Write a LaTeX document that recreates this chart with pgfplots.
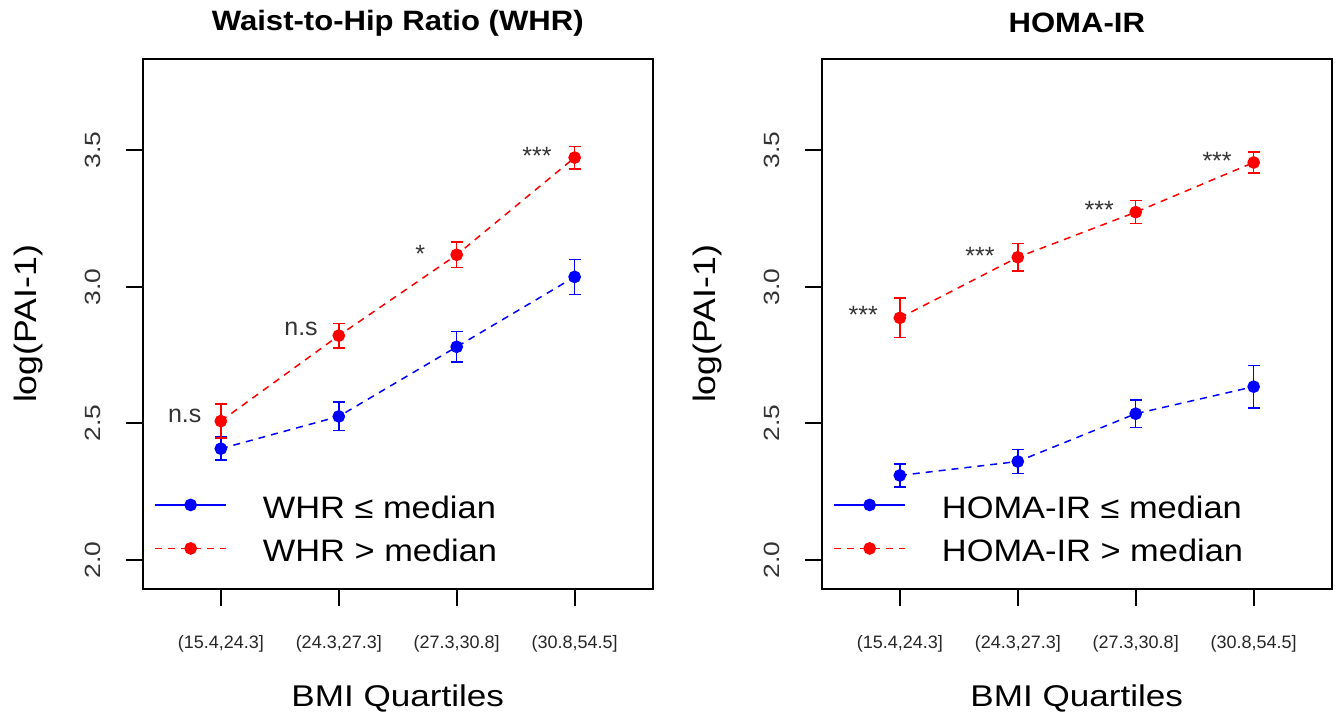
\documentclass[border=0pt]{standalone}
\usepackage{fontspec}
\setmainfont{Liberation Sans}
\newfontfamily\lblfont[FakeStretch=1.17]{Liberation Sans}
\newfontfamily\ylblfont[FakeStretch=1.15]{Liberation Sans}
\newfontfamily\tickfont[FakeStretch=1.2]{Liberation Sans}
\newfontfamily\legfont[FakeStretch=1.11]{Liberation Sans}
\newfontfamily\titlefont[FakeStretch=1.11]{Liberation Sans Bold}
\usepackage{pgfplots}
\usepackage{pgfplotstable}
\pgfplotsset{compat=1.18}

\pgfplotstableread{
x y e
1 2.407 0.042
2 2.525 0.052
3 2.780 0.056
4 3.036 0.064
}\whrlow
\pgfplotstableread{
x y e
1 2.508 0.062
2 2.821 0.045
3 3.117 0.047
4 3.473 0.041
}\whrhigh
\pgfplotstableread{
x y e
1 2.309 0.042
2 2.360 0.044
3 2.535 0.050
4 2.634 0.078
}\homalow
\pgfplotstableread{
x y e
1 2.886 0.072
2 3.108 0.050
3 3.273 0.042
4 3.455 0.039
}\homahigh

\tikzset{ann/.style={font=\fontsize{12.5}{14}\selectfont, anchor=center, color=black!80}}

\pgfplotsset{
  panel/.style={
    scale only axis, width=254.75pt, height=265pt,
    anchor=south west,
    xmin=0.34, xmax=4.66, ymin=1.893, ymax=3.834,
    xtick={1,2,3,4},
    xticklabels={{(15.4,24.3]},{(24.3,27.3]},{(27.3,30.8]},{(30.8,54.5]}},
    ytick={2,2.5,3,3.5},
    yticklabels={2.0,2.5,3.0,3.5},
    xtick pos=bottom, ytick pos=left,
    tick align=outside,
    major tick length=8.5pt,
    tick style={draw=black, line width=1pt},
    axis line style={line width=1pt},
    xticklabel style={font=\fontsize{9}{10}\selectfont, anchor=north, inner sep=0pt, yshift=-14.5pt, color=black!85},
    yticklabel style={xshift=-12.5pt, rotate=90, anchor=south, inner sep=0pt, font=\tickfont\fontsize{11}{12}\selectfont, color=black!80},
    every axis x label/.style={at={(rel axis cs:0.5,-0.207)}, anchor=center, font=\lblfont\fontsize{15}{18}\selectfont},
    every axis y label/.style={at={(rel axis cs:-0.225,0.5)}, rotate=90, anchor=center, font=\ylblfont\fontsize{15.5}{18}\selectfont},
    every axis title/.style={at={(rel axis cs:0.5,1.068)}, anchor=center, font=\titlefont\fontsize{14}{16}\selectfont},
    xlabel={BMI Quartiles},
    ylabel={log(PAI-1)},
    legend image code/.code={\draw[#1] (0pt,6.7pt) -- (35.5pt,6.7pt); \fill[#1,solid] (17.75pt,6.7pt) circle (2.8pt);},
    legend style={draw=none, fill=none, inner sep=0pt, at={(rel axis cs:0.0216,0.0392)}, anchor=south west,
      row sep=7.75pt,
      nodes={inner sep=0pt, text height=11pt, text depth=3pt, anchor=base west, font=\legfont\fontsize{15.5}{18}\selectfont}},
    legend cell align=left,
  },
  ser/.style={color=#1, line width=0.75pt, dash pattern=on 3.5pt off 3pt,
    mark=*, mark size=2.8pt, mark options={solid, fill=#1, draw=#1},
    error bars/y dir=both, error bars/y explicit,
    error bars/error bar style={line width=0.75pt, solid, color=#1},
    error bars/error mark options={rotate=90, mark size=3pt, line width=0.75pt, color=#1}},
}

\begin{document}
\begin{tikzpicture}
\useasboundingbox (0pt,0pt) rectangle (668.5pt,360pt);
\begin{axis}[panel, at={(71.5pt,65.5pt)}, title={Waist-to-Hip Ratio (WHR)}]
  \addlegendimage{blue, line width=0.75pt, solid}
  \addlegendentry{\hspace*{18pt}WHR ≤ median}
  \addlegendimage{red, line width=0.75pt, dash pattern=on 3.5pt off 3pt}
  \addlegendentry{\hspace*{18pt}WHR > median}
  \addplot[forget plot, ser=blue] table[x=x, y=y, y error=e] {\whrlow};
  \addplot[forget plot, ser=red] table[x=x, y=y, y error=e] {\whrhigh};
  \node[ann] at (axis cs:0.694,2.528) {n.s};
  \node[ann] at (axis cs:1.68,2.847) {n.s};
  \node[ann] at (axis cs:2.69,3.122) {*};
  \node[ann] at (axis cs:3.68,3.480) {***};
\end{axis}
\begin{axis}[panel, at={(411pt,65.5pt)}, title={HOMA-IR}]
  \addlegendimage{blue, line width=0.75pt, solid}
  \addlegendentry{\hspace*{18pt}HOMA-IR ≤ median}
  \addlegendimage{red, line width=0.75pt, dash pattern=on 3.5pt off 3pt}
  \addlegendentry{\hspace*{18pt}HOMA-IR > median}
  \addplot[forget plot, ser=blue] table[x=x, y=y, y error=e] {\homalow};
  \addplot[forget plot, ser=red] table[x=x, y=y, y error=e] {\homahigh};
  \node[ann] at (axis cs:0.69,2.897) {***};
  \node[ann] at (axis cs:1.68,3.114) {***};
  \node[ann] at (axis cs:2.69,3.280) {***};
  \node[ann] at (axis cs:3.69,3.460) {***};
\end{axis}
\end{tikzpicture}
\end{document}
